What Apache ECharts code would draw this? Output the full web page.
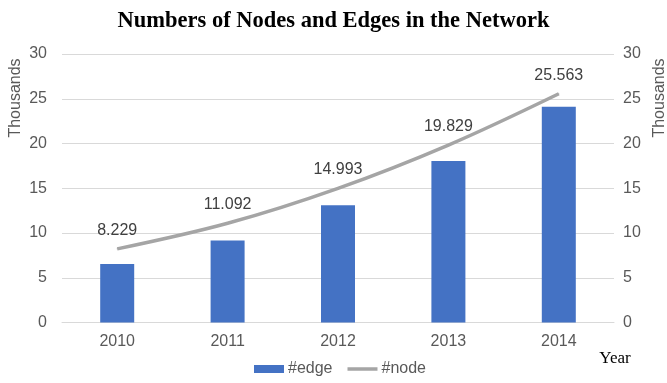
<!DOCTYPE html>
<html>
<head>
<meta charset="utf-8">
<style>
  html, body { margin: 0; padding: 0; background: #fff; }
  #chart { width: 667px; height: 383px; }
</style>
<script src="https://cdn.jsdelivr.net/npm/echarts@6/dist/echarts.min.js"></script>
</head>
<body>
<div id="chart"></div>
<script>
// Yearly network size, in thousands
const years = ['2010', '2011', '2012', '2013', '2014'];
const edgeCounts = [6.55, 9.15, 13.1, 18.05, 24.1];
const nodeCounts = [8.229, 11.092, 14.993, 19.829, 25.563];
const axisTicks = [0, 5, 10, 15, 20, 25, 30];

const sans = '"Liberation Sans", Arial, sans-serif';
const serif = '"Liberation Serif", "Times New Roman", serif';
const labelGray = '#595959';
const nodeGray = '#A5A5A5';

const chart = echarts.init(document.getElementById('chart'), null, { renderer: 'canvas' });

const valueAxis = (pos, margin) => ({
  type: 'value',
  position: pos,
  min: axisTicks[0],
  max: axisTicks[axisTicks.length - 1],
  interval: axisTicks[1] - axisTicks[0],
  axisLine: { show: false },
  axisTick: { show: false },
  axisLabel: { color: labelGray, fontFamily: sans, fontSize: 16, margin: margin },
  splitLine: { show: pos === 'left', lineStyle: { color: '#d9d9d9', width: 1 } }
});

chart.setOption({
  animation: false,
  backgroundColor: '#ffffff',
  title: {
    text: 'Numbers of Nodes and Edges in the Network',
    left: 'center',
    top: 5,
    textStyle: { fontFamily: serif, fontWeight: 'bold', fontSize: 22.5, color: '#000' }
  },
  grid: { left: 62, right: 53, top: 54, bottom: 60.5 },
  xAxis: {
    type: 'category',
    data: years,
    axisLine: { lineStyle: { color: '#d9d9d9', width: 1 } },
    axisTick: { show: false },
    axisLabel: { color: labelGray, fontFamily: sans, fontSize: 16, margin: 11 }
  },
  yAxis: [valueAxis('left', 15), valueAxis('right', 9)],
  legend: {
    bottom: 1,
    left: 249,
    itemWidth: 30,
    itemHeight: 8,
    itemGap: 15,
    textStyle: { color: labelGray, fontFamily: sans, fontSize: 16, padding: [0, 0, 0, -1] },
    data: [
      { name: '#edge', icon: 'rect' },
      { name: '#node', icon: 'path://M0,0H30V3.5H0Z', itemStyle: { color: nodeGray } }
    ]
  },
  series: [
    {
      name: '#edge',
      type: 'bar',
      data: edgeCounts,
      barWidth: 34,
      itemStyle: { color: '#4472C4' }
    },
    {
      name: '#node',
      type: 'line',
      yAxisIndex: 1,
      data: nodeCounts,
      smooth: 0.35,
      symbol: 'circle',
      symbolSize: 1,
      showSymbol: true,
      lineStyle: { color: nodeGray, width: 3.5 },
      itemStyle: { color: nodeGray },
      label: {
        show: true,
        position: 'top',
        distance: 10,
        color: '#404040',
        fontFamily: sans,
        fontSize: 16,
        formatter: p => p.value.toFixed(3)
      }
    }
  ],
  graphic: [
    {
      type: 'text', x: 16, y: 98, rotation: Math.PI / 2,
      style: { text: 'Thousands', fill: labelGray, font: '16px ' + sans, align: 'center', verticalAlign: 'middle' }
    },
    {
      type: 'text', x: 660, y: 98, rotation: Math.PI / 2,
      style: { text: 'Thousands', fill: labelGray, font: '16px ' + sans, align: 'center', verticalAlign: 'middle' }
    },
    {
      type: 'text', x: 615, y: 359,
      style: { text: 'Year', fill: '#000', font: '17px ' + serif, align: 'center', verticalAlign: 'middle' }
    }
  ]
});
</script>
</body>
</html>
